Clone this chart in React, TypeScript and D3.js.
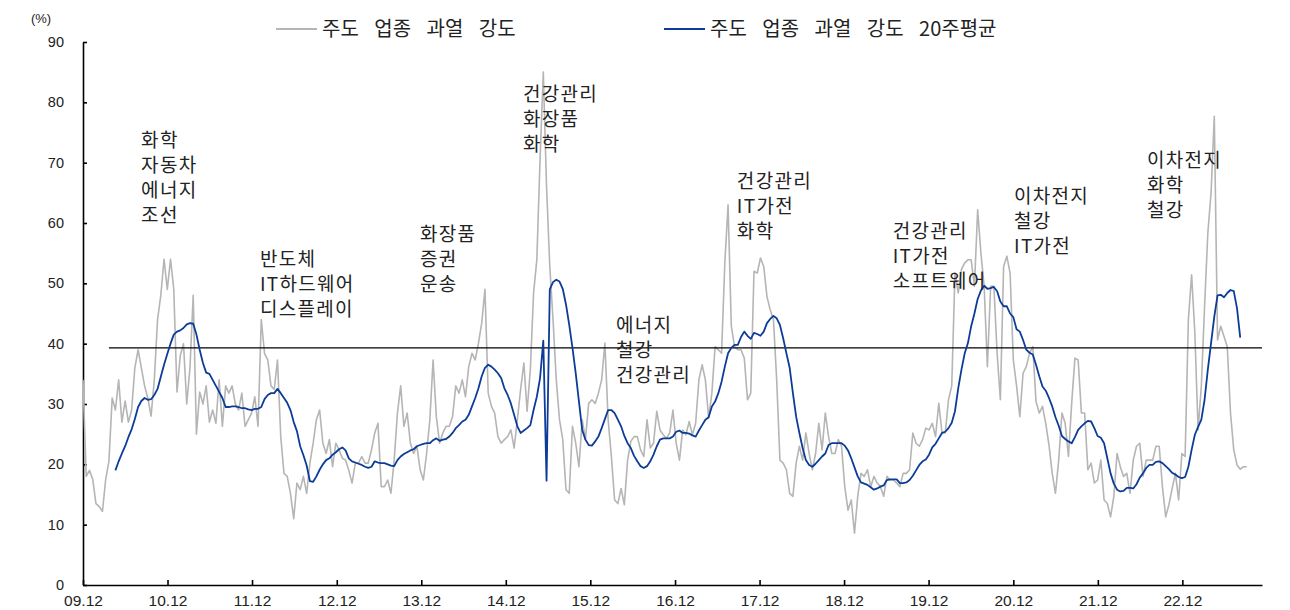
import React, { useEffect, useRef } from 'react'
import * as d3 from 'd3'

// weekly series sampled every 2 weeks, starting 2009.12
const startDate = new Date(2009, 11, 1)
const stepDays = 14

// 주도 업종 과열 강도 (%)
const overheat = [
  34, 18, 19, 17.5, 13.5, 13, 12.2, 17.5, 20.5, 31, 29, 34, 27, 30.5, 27, 29, 36, 39, 36, 33,
  31, 28, 34, 44, 48, 54, 49, 54, 49, 32, 38, 40, 30, 36, 48, 25, 32, 30, 33, 27,
  29, 26.8, 34, 26.3, 33, 31.8, 33, 30, 29, 31.8, 26.3, 27.4, 28.5, 31.2, 26.3, 44, 38.4, 37.3, 33, 32.4,
  37.3, 24.6, 18.5, 18, 15.2, 11, 16.9, 15.8, 18, 15.2, 20.2, 23.5, 27.4, 29, 23.5, 21.8, 24.1, 19.6, 23.5, 22.4,
  21, 20.7, 19, 16.9, 20.2, 20.2, 21.3, 20.2, 20.2, 22.4, 25.2, 26.8, 16.3, 16.3, 17.4, 15.2, 20.7, 28.5, 33, 26.3,
  28.5, 23.5, 21.8, 23, 19.1, 17.4, 21.8, 27.4, 37.3, 27.9, 23.5, 25.2, 26.3, 26.3, 27.9, 33, 31.8, 34, 31.2, 36.2,
  38.4, 37.3, 40.1, 43.4, 49, 31.8, 29.6, 28.5, 24.6, 23.5, 24.1, 24.6, 25.7, 22.7, 27.4, 32.4, 36.8, 28.8, 35.7, 48.4,
  53.9, 70.5, 85, 66.1, 52.8, 44, 34, 27.4, 24.1, 15.8, 15.2, 26.3, 23.5, 19.6, 27.4, 24.1, 30.1, 30.7, 30.1, 31.8,
  34, 40.1, 27.4, 21.3, 14.1, 13.5, 16, 13.3, 20.7, 23.8, 24.6, 24.6, 22.4, 21.3, 27.4, 22.7, 23.5, 28.8, 25.7, 24.9,
  24.3, 25.2, 29, 23.5, 20.7, 25.7, 24.9, 27.1, 24.9, 26.8, 34, 36.5, 34, 27.7, 31.8, 39.5, 39, 38.4, 53.4, 63,
  42.9, 39.5, 39, 39, 37.6, 30.7, 31.8, 52, 51.7, 54.2, 52.8, 47.8, 45.6, 44, 34, 20.7, 20.2, 19.1, 15.2, 14.7,
  20.2, 23, 20.7, 25.2, 21.8, 19.1, 21.8, 26.8, 22.4, 28.5, 24.6, 21.8, 21.8, 24.1, 23, 16.3, 12.4, 14.1, 8.6, 14.7,
  18.5, 18, 19.1, 16.3, 18, 16.9, 16.3, 14.7, 18, 17.4, 17.4, 16.9, 16.3, 18.5, 18.5, 19.1, 25.2, 23.5, 23, 24.1,
  26, 25.7, 26.8, 24.6, 30.1, 25.2, 25.2, 30.7, 33, 51.7, 48.4, 52.3, 53.4, 53.9, 53.9, 49.5, 62.2, 55, 49.5, 36.2,
  49.5, 49.5, 38.4, 30.7, 52.8, 54.5, 51.7, 37.3, 33, 27.9, 35.1, 36.2, 38.4, 39.5, 30.4, 28.5, 29.6, 26.8, 23.2, 18.5,
  15.2, 20.7, 28.5, 26.8, 21.3, 30.1, 37.6, 37.3, 28.5, 28.5, 19.1, 20.2, 16.9, 17.4, 20.7, 14.1, 13.5, 11.3, 14.7, 21.8,
  19.6, 18, 18.5, 15.2, 20.7, 23, 23.5, 18, 20.7, 20.7, 20.7, 23, 23, 16.3, 11.3, 13.3, 16, 18.5, 14.1, 21.8,
  21.3, 44, 51.4, 41.8, 25.7, 33, 46.2, 58.3, 65, 77.7, 40.6, 42.9, 41.2, 39.5, 28.5, 22.4, 19.9, 19.2, 19.6, 19.6,
]

// 주도 업종 과열 강도 20주평균 (%), begins at sample 10
const avgStart = 10
const overheatAvg = [
  19, 20.5, 21.8, 23, 24.5, 25.8, 27.5, 29.5, 30.5, 31, 30.7, 30.8, 31.5, 32.5, 34.5, 36.5, 38.3, 40, 41.5, 42,
  42.2, 42.6, 43.2, 43.4, 43.3, 41.5, 39, 36.8, 35.2, 35, 34,
  33, 32, 31, 29.5, 29.5, 29.6, 29.6, 29.5, 29.3, 29.3, 29.1, 29, 29.2, 29.2, 29.5, 30.8, 31.5, 31.8, 31.8, 32.5,
  31.8, 31, 30.2, 29, 27, 25.5, 23, 21.5, 19.8, 17.2, 17.1, 18, 19.1, 20, 20.7, 21, 21.6, 22, 22.5, 22.8,
  22.3, 21, 20.5, 20.3, 20.1, 19.9, 19.6, 19.4, 19.6, 20.5, 20.3, 20.2, 20.2, 20, 19.8, 19.7, 20.7, 21.3, 21.7, 22,
  22.3, 22.5, 23, 23.2, 23.4, 23.5, 23.5, 24, 24.3, 23.9, 24.1, 24.2, 24.6, 25.2, 26, 26.5, 27.1, 27.4, 28.2, 29.6,
  31, 32.6, 34.6, 36, 36.5, 36.2, 35.7, 35.1, 34.3, 32.6, 31.5, 30.1, 28.2, 26.3, 25.2, 25.6, 26, 26.5, 29, 31.2,
  34.3, 40.5, 17.3, 49, 50.2, 50.6, 50.3, 49.1, 46.5, 43.1, 39.3, 35.1, 30.4, 25.7, 24.1, 23.2, 23.1, 23.8, 24.6, 26,
  27.5, 29, 29, 28.5, 27.4, 26.3, 24.7, 23.5, 22.7, 21.4, 20.5, 19.7, 19.4, 19.7, 20.5, 21.6, 23, 24.1, 24.3, 24.3,
  24.3, 24.6, 25.4, 25.6, 25.2, 25.2, 25.1, 24.8, 24.6, 25.6, 26.5, 27.4, 27.8, 29.6, 30.4, 31.8, 33.7, 36.2, 38.4, 39.3,
  39.8, 39.8, 41.1, 42, 41.3, 40.8, 41.8, 41.6, 41.3, 42, 43.4, 44.1, 44.6, 44.2, 43.1, 40.9, 38.4, 36, 31.8, 27.9,
  25.2, 22.7, 20.7, 19.9, 19.6, 20.1, 20.7, 21.3, 21.8, 23.2, 23.5, 23.5, 23.5, 23.5, 23.1, 22.3, 21, 19.5, 18, 17,
  16.8, 16.6, 16.2, 15.8, 16, 16.3, 16.5, 17.4, 17.5, 17.5, 17.5, 16.9, 16.9, 17, 17.4, 18.1, 19, 19.9, 20.5, 20.8,
  21.6, 22.8, 23.4, 24.3, 25.2, 25.4, 26, 26.9, 28.8, 32.6, 35.7, 38.4, 40.1, 42.9, 45, 47.4, 48.8, 49.6, 49.1, 49.2,
  49.4, 48.7, 47, 46.2, 46.2, 45, 44.4, 42.4, 42, 40.6, 39, 38.5, 38.2, 36.5, 34.6, 32.9, 32.2, 31, 29.6, 27.8,
  26.4, 24.7, 24.2, 23.8, 23.5, 24.5, 25.7, 26.3, 26.8, 27.2, 27.1, 26, 24.7, 24.4, 23.5, 21, 18.5, 16.8, 15.8, 15.5,
  15.6, 16.1, 16.1, 16, 16.7, 17.8, 18.5, 19.4, 19.9, 19.9, 20.4, 20.5, 20.2, 19.7, 19.2, 18.6, 18.3, 17.9, 17.7, 17.9,
  19.6, 22.4, 24.9, 26.2, 27.4, 30.7, 35.7, 40.1, 44.5, 48, 48.1, 47.7, 48.4, 48.9, 48.7, 45.9, 41,
]

// long-run reference level, drawn from sample 8 onward
const refLevel = 39.3
const refStart = 8

const yTicks = [0, 10, 20, 30, 40, 50, 60, 70, 80, 90]
const xTickYears = [2009, 2010, 2011, 2012, 2013, 2014, 2015, 2016, 2017, 2018, 2019, 2020, 2021, 2022]

const legendNames = ['주도 업종 과열 강도', '주도 업종 과열 강도 20주평균']

// sectors leading each overheating episode, anchored at [sample index, value]
const episodeSectors = [
  ['화학', '자동차', '에너지', '조선'],
  ['반도체', 'IT하드웨어', '디스플레이'],
  ['화장품', '증권', '운송'],
  ['건강관리', '화장품', '화학'],
  ['에너지', '철강', '건강관리'],
  ['건강관리', 'IT가전', '화학'],
  ['건강관리', 'IT가전', '소프트웨어'],
  ['이차전지', '철강', 'IT가전'],
  ['이차전지', '화학', '철강'],
]
const episodeAnchors = [
  [17.9, 72.6], [54.6, 52.9], [103.9, 57], [135.7, 80.3], [164.4, 42],
  [201.7, 65.8], [249.8, 57.5], [287.2, 63.3], [328.2, 69.2],
]

const KR = '"Noto Sans CJK KR", "Noto Sans", sans-serif'
const NUM = '"Liberation Sans", Arial, sans-serif'

export default function App() {
  const ref = useRef<SVGSVGElement>(null)

  useEffect(() => {
    const svg = d3.select(ref.current)
    svg.selectAll('*').remove()

    const x = d3.scaleTime()
      .domain([startDate, new Date(2023, 10, 10)])
      .range([83, 1262])
    const y = d3.scaleLinear().domain([0, 90]).range([585, 42])
    const dateAt = (i: number) => d3.timeDay.offset(startDate, Math.round(i * stepDays))

    // axes
    const yAxis = d3.axisLeft(y).tickValues(yTicks).tickSizeInner(-4).tickSizeOuter(0).tickPadding(19)
    const gy = svg.append('g').attr('transform', `translate(${x.range()[0]},0)`).call(yAxis)
    gy.selectAll('text').attr('font-family', NUM).attr('font-size', 14.5).attr('fill', '#222')

    const xAxis = d3.axisBottom(x)
      .tickValues(xTickYears.map(yr => new Date(yr, 11, 1)))
      .tickFormat(d3.timeFormat('%y.%m') as any)
      .tickSizeInner(-5).tickSizeOuter(0).tickPadding(10)
    const gx = svg.append('g').attr('transform', `translate(0,${y(0)})`).call(xAxis)
    gx.selectAll('text').attr('font-family', NUM).attr('font-size', 15.5).attr('fill', '#222')

    svg.selectAll('.domain, .tick line').attr('stroke', '#000').attr('stroke-width', 1.6)

    svg.append('text').attr('x', 41).attr('y', 23).attr('text-anchor', 'middle')
      .attr('font-family', NUM).attr('font-size', 13).attr('fill', '#222').text('(%)')

    // gray weekly series
    const line = d3.line<number>()
      .x((d, i) => x(dateAt(i)))
      .y(d => y(d))
    svg.append('path').datum(overheat)
      .attr('d', line)
      .attr('fill', 'none').attr('stroke', '#b5b5b5').attr('stroke-width', 1.6)
      .attr('stroke-linejoin', 'round')

    // reference level
    svg.append('line')
      .attr('x1', x(dateAt(refStart))).attr('x2', x.range()[1])
      .attr('y1', y(refLevel)).attr('y2', y(refLevel))
      .attr('stroke', '#000').attr('stroke-width', 1.3)

    // 20-week average
    const avgLine = d3.line<number>()
      .x((d, i) => x(dateAt(i + avgStart)))
      .y(d => y(d))
    svg.append('path').datum(overheatAvg)
      .attr('d', avgLine)
      .attr('fill', 'none').attr('stroke', '#0c3c98').attr('stroke-width', 1.8)
      .attr('stroke-linejoin', 'round')

    // legend
    const legendX = [276, 664]
    const legendColors = ['#b5b5b5', '#0c3c98']
    legendNames.forEach((name, i) => {
      svg.append('line')
        .attr('x1', legendX[i]).attr('x2', legendX[i] + 41)
        .attr('y1', 29).attr('y2', 29)
        .attr('stroke', legendColors[i]).attr('stroke-width', 2)
      svg.append('text')
        .attr('x', legendX[i] + 46).attr('y', 36)
        .attr('font-family', KR).attr('font-size', 20).attr('fill', '#222')
        .attr('word-spacing', 11)
        .text(name)
    })

    // episode annotations, one text per line
    episodeSectors.forEach((lines, i) => {
      const [k, v] = episodeAnchors[i]
      lines.forEach((s, j) => {
        svg.append('text')
          .attr('x', x(dateAt(k))).attr('y', y(v) + j * 25)
          .attr('font-family', KR).attr('font-size', 19).attr('letter-spacing', 1.3)
          .attr('fill', '#222')
          .text(s)
      })
    })
  }, [])

  return (
    <svg
      ref={ref}
      width={1290}
      height={610}
      style={{ position: 'absolute', left: 0, top: 0, background: '#fff' }}
    />
  )
}
